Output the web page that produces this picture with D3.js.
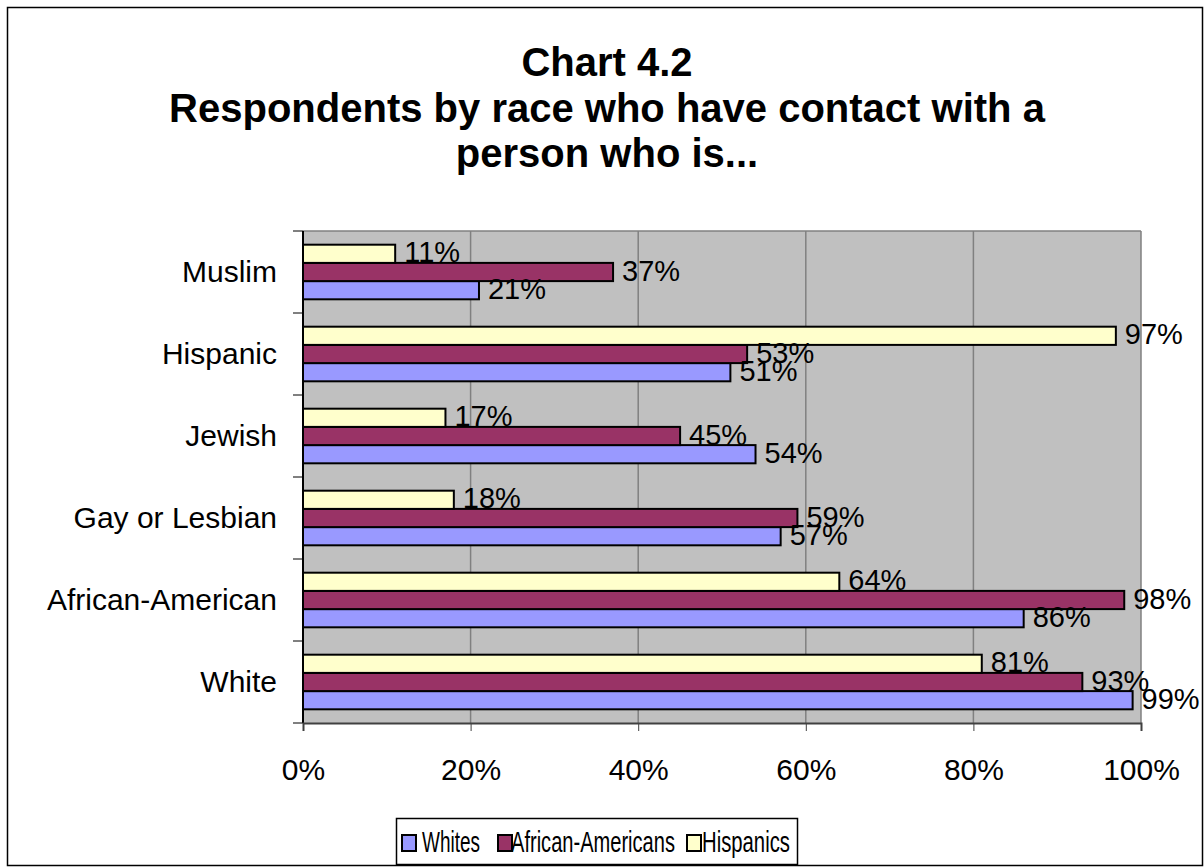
<!DOCTYPE html>
<html>
<head>
<meta charset="utf-8">
<script src="https://cdn.jsdelivr.net/npm/d3@7"></script>
<style>
  body { margin: 0; background: #fff; }
  svg text { font-family: Arial, "Liberation Sans", sans-serif; }
</style>
</head>
<body>
<svg id="chart" width="1204" height="867"></svg>
<script>
// categories, top to bottom
const categories = ["Muslim", "Hispanic", "Jewish", "Gay or Lesbian", "African-American", "White"];
const seriesNames = ["Whites", "African-Americans", "Hispanics"];
const whites = [21, 51, 54, 57, 86, 99];
const africanAmericans = [37, 53, 45, 59, 98, 93];
const hispanics = [11, 97, 17, 18, 64, 81];
const xTicks = [0, 20, 40, 60, 80, 100];
const titleLines = ["Chart 4.2", "Respondents by race who have contact with a", "person who is..."];

const colors = { "Whites": "#9999FF", "African-Americans": "#993366", "Hispanics": "#FFFFCC" };
const seriesValues = { "Whites": whites, "African-Americans": africanAmericans, "Hispanics": hispanics };

const svg = d3.select("#chart");

// outer frame
svg.append("rect")
  .attr("x", 7.5).attr("y", 7.5)
  .attr("width", 1195).attr("height", 858)
  .attr("fill", "#fff").attr("stroke", "#000").attr("stroke-width", 1.5);

// title
svg.append("g").selectAll("text")
  .data(titleLines)
  .enter().append("text")
  .attr("x", 607)
  .attr("y", (d, i) => 76 + i * 45.5)
  .attr("text-anchor", "middle")
  .attr("font-size", 40)
  .attr("font-weight", "bold")
  .text(d => d);

const plotL = 303, plotR = 1141, plotT = 231, plotB = 723;

const x = d3.scaleLinear().domain([0, 100]).range([plotL, plotR]);
const y = d3.scaleBand().domain(categories).range([plotT, plotB]).padding(0);
// order inside a group, top to bottom
const inner = d3.scaleBand()
  .domain(["Hispanics", "African-Americans", "Whites"])
  .range([y.bandwidth() * 0.167, y.bandwidth() * 0.833]);

// plot background
svg.append("rect")
  .attr("x", plotL).attr("y", plotT)
  .attr("width", plotR - plotL).attr("height", plotB - plotT)
  .attr("fill", "#C0C0C0");

// gridlines
svg.append("g").selectAll("line")
  .data(xTicks.slice(1))
  .enter().append("line")
  .attr("x1", d => x(d)).attr("x2", d => x(d))
  .attr("y1", plotT).attr("y2", plotB)
  .attr("stroke", "#808080").attr("stroke-width", 1.5);

// top border of plot
svg.append("line")
  .attr("x1", plotL).attr("x2", plotR).attr("y1", plotT).attr("y2", plotT)
  .attr("stroke", "#808080").attr("stroke-width", 1.5);

// bars
const groups = svg.append("g").selectAll("g")
  .data(categories)
  .enter().append("g")
  .attr("transform", d => "translate(0," + y(d) + ")");

groups.selectAll("rect")
  .data((c, i) => seriesNames.map(s => ({ s: s, v: seriesValues[s][i] })))
  .enter().append("rect")
  .attr("x", x(0))
  .attr("y", d => inner(d.s))
  .attr("width", d => x(d.v) - x(0))
  .attr("height", inner.bandwidth())
  .attr("fill", d => colors[d.s])
  .attr("stroke", "#000").attr("stroke-width", 2);

groups.selectAll("text")
  .data((c, i) => seriesNames.map(s => ({ s: s, v: seriesValues[s][i] })))
  .enter().append("text")
  .attr("x", d => x(d.v) + 9)
  .attr("y", d => inner(d.s) + inner.bandwidth() - 0.5)
  .attr("font-size", 29)
  .text(d => d.v + "%");

// y axis
const yAxis = svg.append("g")
  .attr("transform", "translate(" + plotL + ",0)");
yAxis.append("line")
  .attr("x1", 0).attr("x2", 0).attr("y1", plotT).attr("y2", plotB)
  .attr("stroke", "#000").attr("stroke-width", 2);
yAxis.selectAll(".tk")
  .data(d3.range(categories.length + 1))
  .enter().append("line")
  .attr("x1", -10).attr("x2", 0)
  .attr("y1", i => plotT + i * y.step()).attr("y2", i => plotT + i * y.step())
  .attr("stroke", "#000").attr("stroke-width", 1);
yAxis.selectAll("text")
  .data(categories)
  .enter().append("text")
  .attr("x", -26)
  .attr("y", d => y(d) + y.bandwidth() / 2 + 10)
  .attr("text-anchor", "end")
  .attr("font-size", 30)
  .text(d => d);

// x axis
const xAxis = svg.append("g")
  .attr("transform", "translate(0," + plotB + ")")
  .call(d3.axisBottom(x).tickValues(xTicks).tickSize(8).tickFormat(d => d + "%"));
xAxis.select(".domain").attr("stroke", "#404040").attr("stroke-width", 2);
xAxis.selectAll(".tick line").attr("stroke", "#404040").attr("stroke-width", 1);
xAxis.selectAll(".tick text")
  .attr("font-size", 30)
  .attr("font-family", "Arial, 'Liberation Sans', sans-serif")
  .attr("fill", "#000")
  .attr("dy", null)
  .attr("y", 57);

// legend
const legend = svg.append("g");
legend.append("rect")
  .attr("x", 396.5).attr("y", 818.5)
  .attr("width", 401).attr("height", 46)
  .attr("fill", "#fff").attr("stroke", "#000").attr("stroke-width", 1.5);

const legendItems = [
  { s: "Whites", x: 402, tx: 422, w: 58 },
  { s: "African-Americans", x: 498, tx: 511, w: 164 },
  { s: "Hispanics", x: 687, tx: 702, w: 88 }
];
const li = legend.selectAll(".item")
  .data(legendItems)
  .enter().append("g");
li.append("rect")
  .attr("x", d => d.x).attr("y", 835)
  .attr("width", 14).attr("height", 16)
  .attr("fill", d => colors[d.s])
  .attr("stroke", "#000").attr("stroke-width", 2);
// legend text is squeezed sideways in the original
li.append("text")
  .attr("font-size", 29)
  .text(d => d.s)
  .attr("transform", function(d) {
    const sx = d.w / this.getComputedTextLength();
    return "translate(" + d.tx + ",852) scale(" + sx + ",1)";
  });
</script>
</body>
</html>
